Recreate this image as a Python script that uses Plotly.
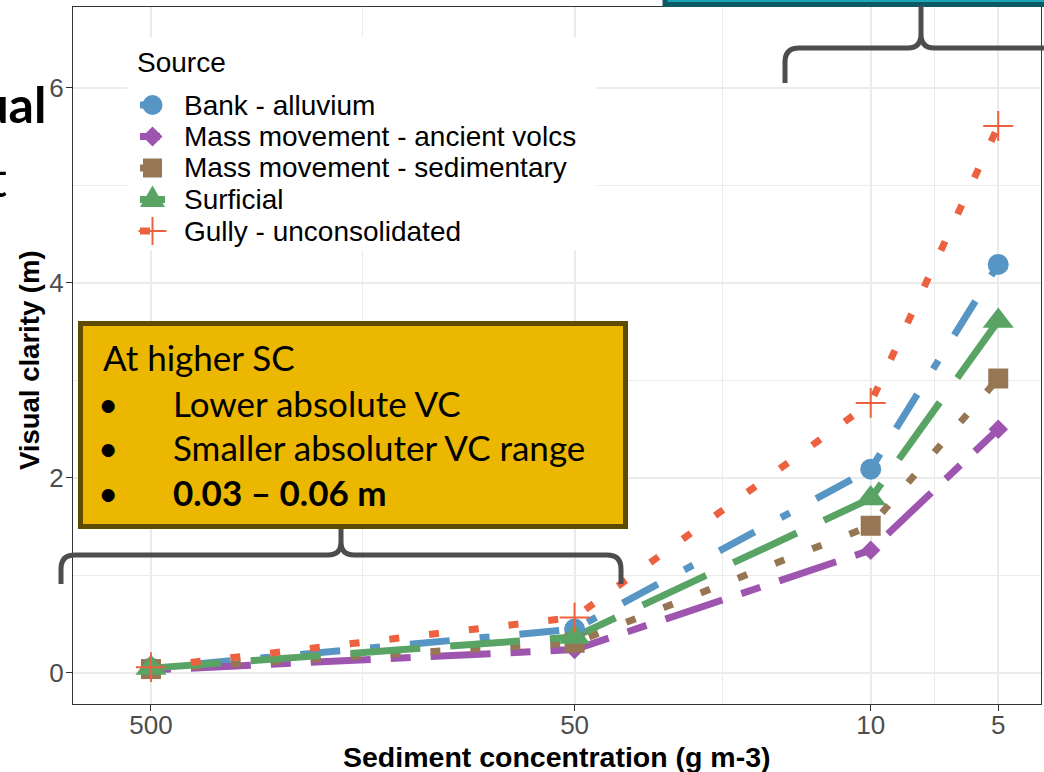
import plotly.graph_objects as go

# ---------------- data ----------------
sc = [500, 50, 10, 5]
sources = ["Bank - alluvium", "Mass movement - ancient volcs",
           "Mass movement - sedimentary", "Surficial", "Gully - unconsolidated"]
bank = [0.05, 0.45, 2.09, 4.19]
ancient_volcs = [0.03, 0.24, 1.26, 2.50]
sedimentary = [0.04, 0.31, 1.51, 3.02]
surficial = [0.05, 0.37, 1.79, 3.61]
gully = [0.06, 0.57, 2.77, 5.61]
x_tickvals = [500, 50, 10, 5]
x_ticktext = ["500", "50", "10", "5"]
y_tickvals = [0, 2, 4, 6]
box_lines = ["At higher SC", "Lower absolute VC", "Smaller absoluter VC range", "<b>0.03 – 0.06 m</b>"]

# ---------------- styles ----------------
series = [bank, ancient_volcs, sedimentary, surficial, gully]
colors = ["#5795C4", "#9D55AF", "#967654", "#59A465", "#EC6241"]
dashes = ["10px,30px,40px,30px", "20px,20px,60px,20px", "10px,30px", "70px,30px", "10px,30px"]
symbols = ["circle", "diamond", "square", "triangle-up", "cross-thin"]
msizes = [21, 15, 20, 27, 21.4]
first_on = [10, 20, 10, 25, 10]

W, H = 1044, 772
L, R, T, B = 73, 1041, 7, 704
def fx(p): return (p - L) / (R - L)
def fy(p): return (B - p) / (B - T)
def path(cmds):
    out = []
    for c in cmds:
        op, pts = c[0], c[1:]
        coords = []
        for i in range(0, len(pts), 2):
            coords.append(f"{fx(pts[i]):.5f},{fy(pts[i+1]):.5f}")
        out.append(op + " " + " ".join(coords))
    return " ".join(out)

FONT = "Liberation Sans, Arial, sans-serif"
SLIDE = "Lato, Open Sans, sans-serif"

fig = go.Figure()
# lines first (as in ggplot), then points
for name, ys, col, dsh in zip(sources, series, colors, dashes):
    fig.add_trace(go.Scatter(x=sc, y=ys, mode="lines", name=name, showlegend=False,
                             line=dict(color=col, width=7, dash=dsh)))
for name, ys, col, sym, ms in zip(sources, series, colors, symbols, msizes):
    mk = dict(symbol=sym, size=ms, color=col, line=dict(width=0))
    if sym == "cross-thin":
        mk["line"] = dict(color=col, width=2)
    fig.add_trace(go.Scatter(x=sc, y=ys, mode="markers", name=name, showlegend=False, marker=mk))

shapes = []
annotations = []

# teal box at the top (cut off)
shapes.append(dict(type="rect", xref="paper", yref="paper", x0=fx(665), x1=fx(1070), y0=fy(4.5), y1=fy(-30),
                   fillcolor="#1AA6B7", line=dict(color="#0D5A66", width=5), layer="above"))

# legend (drawn manually)
LEG = 28
shapes.append(dict(type="rect", xref="paper", yref="paper", x0=fx(127), x1=fx(597), y0=fy(250), y1=fy(37),
                   fillcolor="white", line=dict(width=0), layer="above"))
annotations.append(dict(xref="paper", yref="paper", x=fx(135), y=fy(63), text="Source", showarrow=False,
                        xanchor="left", yanchor="middle", font=dict(family=FONT, size=LEG, color="black")))
row_y = [105, 136.5, 168, 199.5, 231]
cx = 152.5
for i, (name, col, sym) in enumerate(zip(sources, colors, symbols)):
    cy = row_y[i]
    shapes.append(dict(type="line", xref="paper", yref="paper", x0=fx(140), x1=fx(140 + first_on[i]),
                       y0=fy(cy), y1=fy(cy), line=dict(color=col, width=7), layer="above"))
    if sym == "circle":
        shapes.append(dict(type="circle", xref="paper", yref="paper", x0=fx(cx - 10), x1=fx(cx + 10),
                           y0=fy(cy + 10), y1=fy(cy - 10), fillcolor=col, line=dict(width=0), layer="above"))
    elif sym == "diamond":
        shapes.append(dict(type="path", xref="paper", yref="paper",
                           path=path([("M", cx - 10, cy), ("L", cx, cy - 10), ("L", cx + 10, cy), ("L", cx, cy + 10)]) + " Z",
                           fillcolor=col, line=dict(width=0), layer="above"))
    elif sym == "square":
        shapes.append(dict(type="rect", xref="paper", yref="paper", x0=fx(cx - 9.5), x1=fx(cx + 9.5),
                           y0=fy(cy + 9.5), y1=fy(cy - 9.5), fillcolor=col, line=dict(width=0), layer="above"))
    elif sym == "triangle-up":
        shapes.append(dict(type="path", xref="paper", yref="paper",
                           path=path([("M", cx - 12.5, cy + 7.5), ("L", cx + 12.5, cy + 7.5), ("L", cx, cy - 14)]) + " Z",
                           fillcolor=col, line=dict(width=0), layer="above"))
    else:
        shapes.append(dict(type="line", xref="paper", yref="paper", x0=fx(cx - 14), x1=fx(cx + 14),
                           y0=fy(cy), y1=fy(cy), line=dict(color=col, width=2), layer="above"))
        shapes.append(dict(type="line", xref="paper", yref="paper", x0=fx(cx), x1=fx(cx),
                           y0=fy(cy - 14), y1=fy(cy + 14), line=dict(color=col, width=2), layer="above"))
    annotations.append(dict(xref="paper", yref="paper", x=fx(182), y=fy(cy), text=name, showarrow=False,
                            xanchor="left", yanchor="middle", font=dict(family=FONT, size=LEG, color="black")))

# braces
BR = "#4D4D4D"
shapes.append(dict(type="path", xref="paper", yref="paper", layer="above",
                   path=path([("M", 785, 83), ("L", 785, 62), ("Q", 785, 48, 799, 48), ("L", 908, 48),
                              ("Q", 921, 48, 921, 34), ("L", 921, 6),
                              ("M", 921, 34), ("Q", 921, 48, 934, 48), ("L", 1060, 48)]),
                   line=dict(color=BR, width=5)))
shapes.append(dict(type="path", xref="paper", yref="paper", layer="above",
                   path=path([("M", 61, 584), ("L", 61, 569), ("Q", 61, 555, 75, 555), ("L", 328, 555),
                              ("Q", 341, 555, 341, 542), ("L", 341, 528),
                              ("M", 341, 542), ("Q", 341, 555, 354, 555), ("L", 607, 555),
                              ("Q", 621, 555, 621, 569), ("L", 621, 584)]),
                   line=dict(color=BR, width=5)))

# yellow box
BOXF = 35
shapes.append(dict(type="rect", xref="paper", yref="paper", x0=fx(80.5), x1=fx(625.5), y0=fy(526.5), y1=fy(323.5),
                   fillcolor="#EBB700", line=dict(color="#5E4A00", width=5), layer="above"))
box_y = [357, 403, 447, 492]
annotations.append(dict(xref="paper", yref="paper", x=fx(101), y=fy(box_y[0]), text=box_lines[0], showarrow=False,
                        xanchor="left", yanchor="middle", font=dict(family=SLIDE, size=BOXF, color="black")))
for yy, t in zip(box_y[1:], box_lines[1:]):
    annotations.append(dict(xref="paper", yref="paper", x=fx(108), y=fy(yy), text="•", showarrow=False,
                            xanchor="center", yanchor="middle", font=dict(family=SLIDE, size=BOXF, color="black")))
    annotations.append(dict(xref="paper", yref="paper", x=fx(171), y=fy(yy), text=t, showarrow=False,
                            xanchor="left", yanchor="middle", font=dict(family=SLIDE, size=BOXF, color="black")))

# slide text fragments at left (cut off in the reference too)
annotations.append(dict(xref="paper", yref="paper", x=fx(48), y=fy(104), text="<b>Visual</b>", showarrow=False,
                        xanchor="right", yanchor="middle", font=dict(family=SLIDE, size=50, color="black")))
annotations.append(dict(xref="paper", yref="paper", x=fx(9), y=fy(178), text="t", showarrow=False,
                        xanchor="right", yanchor="middle", font=dict(family=SLIDE, size=50, color="black")))

# axis titles
annotations.append(dict(xref="paper", yref="paper", x=fx(557), y=fy(757), text="<b>Sediment concentration (g m-3)</b>",
                        showarrow=False, xanchor="center", yanchor="middle",
                        font=dict(family=FONT, size=28.5, color="black")))
annotations.append(dict(xref="paper", yref="paper", x=fx(29), y=fy(360), text="<b>Visual clarity (m)</b>",
                        showarrow=False, xanchor="center", yanchor="middle", textangle=-90,
                        font=dict(family=FONT, size=27.5, color="black")))

fig.update_layout(
    width=W, height=H,
    margin=dict(l=L, r=W - R, t=T, b=H - B, pad=0),
    paper_bgcolor="white", plot_bgcolor="white",
    showlegend=False,
    shapes=shapes, annotations=annotations,
    xaxis=dict(type="log", range=[2.883, 0.598], tickvals=x_tickvals, ticktext=x_ticktext,
               ticks="outside", ticklen=6, tickwidth=1.2, tickcolor="#333333",
               showline=True, linecolor="#333333", linewidth=1.2, mirror=True,
               showgrid=True, gridcolor="#EBEBEB", gridwidth=1.6, zeroline=False,
               ticklabelstandoff=-8,
               minor=dict(tickvals=[158.1, 22.36, 7.07], showgrid=True, gridcolor="#EBEBEB", gridwidth=1.0, ticks=""),
               tickfont=dict(family=FONT, size=26, color="#4D4D4D")),
    yaxis=dict(range=[-0.318, 6.83], tickvals=y_tickvals,
               ticks="outside", ticklen=6, tickwidth=1.2, tickcolor="#333333",
               showline=True, linecolor="#333333", linewidth=1.2, mirror=True,
               showgrid=True, gridcolor="#EBEBEB", gridwidth=1.6, zeroline=False,
               ticklabelstandoff=-3,
               minor=dict(tickvals=[1, 3, 5], showgrid=True, gridcolor="#EBEBEB", gridwidth=1.0, ticks=""),
               tickfont=dict(family=FONT, size=26, color="#4D4D4D")),
)

fig.write_html("out.html")
